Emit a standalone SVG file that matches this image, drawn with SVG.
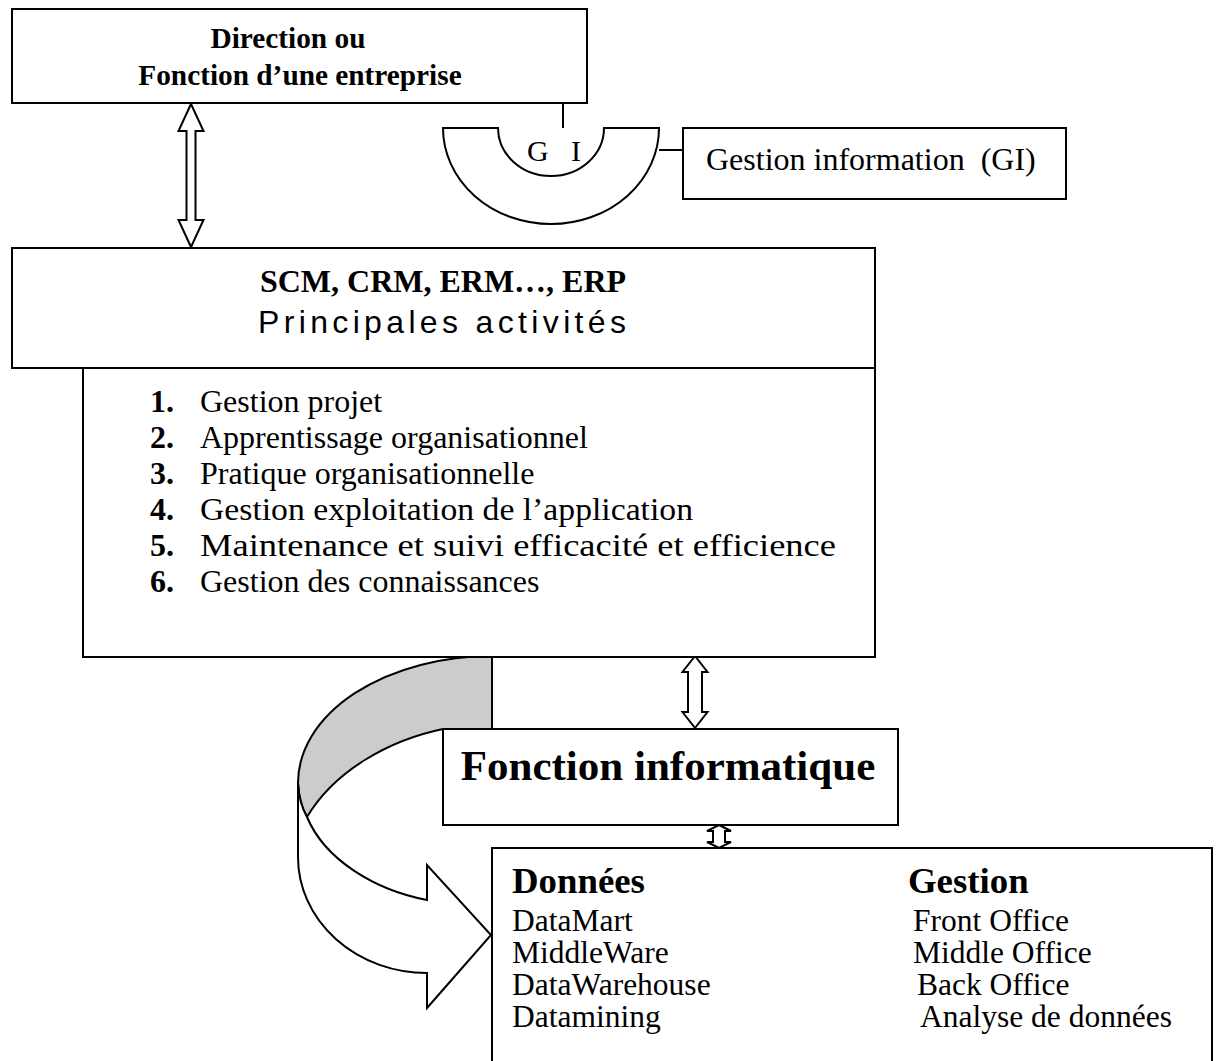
<svg xmlns="http://www.w3.org/2000/svg" width="1218" height="1061" viewBox="0 0 1218 1061">
<style>
.box{fill:#fff;stroke:#000;stroke-width:2}
.ln{fill:none;stroke:#000;stroke-width:2}
.arr{fill:#fff;stroke:#000;stroke-width:2;stroke-linejoin:miter}
.t{font-family:"Liberation Serif","Times New Roman",serif;fill:#000}
.b{font-weight:bold}
.s{font-family:"Liberation Sans",Arial,sans-serif;fill:#000}
</style>
<rect width="1218" height="1061" fill="#fff"/>
<g id="connectors">
<line class="ln" x1="563" y1="103" x2="563" y2="128"/>
<line class="ln" x1="659" y1="150" x2="683" y2="150"/>
<path class="arr" d="M191,104 L203.5,131 L195.5,131 L195.5,220 L203.5,220 L191,247 L178.5,220 L186.5,220 L186.5,131 L178.5,131 Z"/>
<path class="arr" d="M695,656 L707.5,672 L702,672 L702,712 L707.5,712 L695,728 L682.5,712 L688,712 L688,672 L682.5,672 Z"/>
<path class="arr" d="M719,825 L731,831 L725,831 L725,842 L731,842 L719,848 L707,842 L713,842 L713,831 L707,831 Z"/>
<path d="M492,656 A194 127 0 0 0 298,783 Q299,803 307,817 C335,770 390,740 443,729 L492,729 Z" fill="#cccccc" stroke="#000" stroke-width="2"/>
<path class="arr" d="M298,783 L298,857 A129 116 0 0 0 427,973 L427,1008 L491,935 L427,865 L427,900 C375,890 325,860 307,817 Q299,803 298,783 Z"/>
</g>
<g id="direction">
<rect class="box" x="12" y="9" width="575" height="94"/>
<text class="t b" x="288" y="48" font-size="29.3" text-anchor="middle">Direction ou</text>
<text class="t b" x="300" y="85" font-size="29.3" text-anchor="middle">Fonction d’une entreprise</text>
</g>
<g id="gi">
<path class="box" d="M443,128 L498,128 A53 48 0 0 0 604,128 L659,128 A108 96 0 0 1 443,128 Z"/>
<text class="t" x="527" y="161" font-size="30">G</text>
<text class="t" x="571" y="161" font-size="30">I</text>
</g>
<g id="gestion-info">
<rect class="box" x="683" y="128" width="383" height="71"/>
<text class="t" x="706" y="170" font-size="32">Gestion information&#160; (GI)</text>
</g>
<g id="scm">
<rect class="box" x="12" y="248" width="863" height="120"/>
<text class="t b" x="443" y="292" font-size="32" text-anchor="middle">SCM, CRM, ERM…, ERP</text>
<text class="s" x="258" y="333" font-size="32" textLength="368" lengthAdjust="spacing">Principales activités</text>
</g>
<g id="activites">
<rect class="box" x="83" y="368" width="792" height="289"/>
<g class="t" font-size="32">
<text x="150" y="412"><tspan class="b">1.</tspan><tspan x="200">Gestion projet</tspan></text>
<text x="150" y="448"><tspan class="b">2.</tspan><tspan x="200">Apprentissage organisationnel</tspan></text>
<text x="150" y="484"><tspan class="b">3.</tspan><tspan x="200">Pratique organisationnelle</tspan></text>
<text x="150" y="520"><tspan class="b">4.</tspan><tspan x="200" textLength="493" lengthAdjust="spacingAndGlyphs">Gestion exploitation de l’application</tspan></text>
<text x="150" y="556"><tspan class="b">5.</tspan><tspan x="200" textLength="636" lengthAdjust="spacingAndGlyphs">Maintenance et suivi efficacité et efficience</tspan></text>
<text x="150" y="592"><tspan class="b">6.</tspan><tspan x="200">Gestion des connaissances</tspan></text>
</g>
</g>
<g id="fonction-informatique">
<rect class="box" x="443" y="729" width="455" height="96"/>
<text class="t b" x="668" y="780" font-size="43" text-anchor="middle">Fonction informatique</text>
</g>
<g id="donnees-gestion">
<rect class="box" x="492" y="848" width="720" height="230"/>
<g class="t" font-size="31.5">
<text class="b" x="512" y="893" font-size="36.8">Données</text>
<text x="512" y="931">DataMart</text>
<text x="512" y="963">MiddleWare</text>
<text x="512" y="995">DataWarehouse</text>
<text x="512" y="1027">Datamining</text>
<text class="b" x="908" y="893" font-size="36.8">Gestion</text>
<text x="913" y="931">Front Office</text>
<text x="913" y="963">Middle Office</text>
<text x="917" y="995">Back Office</text>
<text x="920" y="1027">Analyse de données</text>
</g>
</g>
</svg>
